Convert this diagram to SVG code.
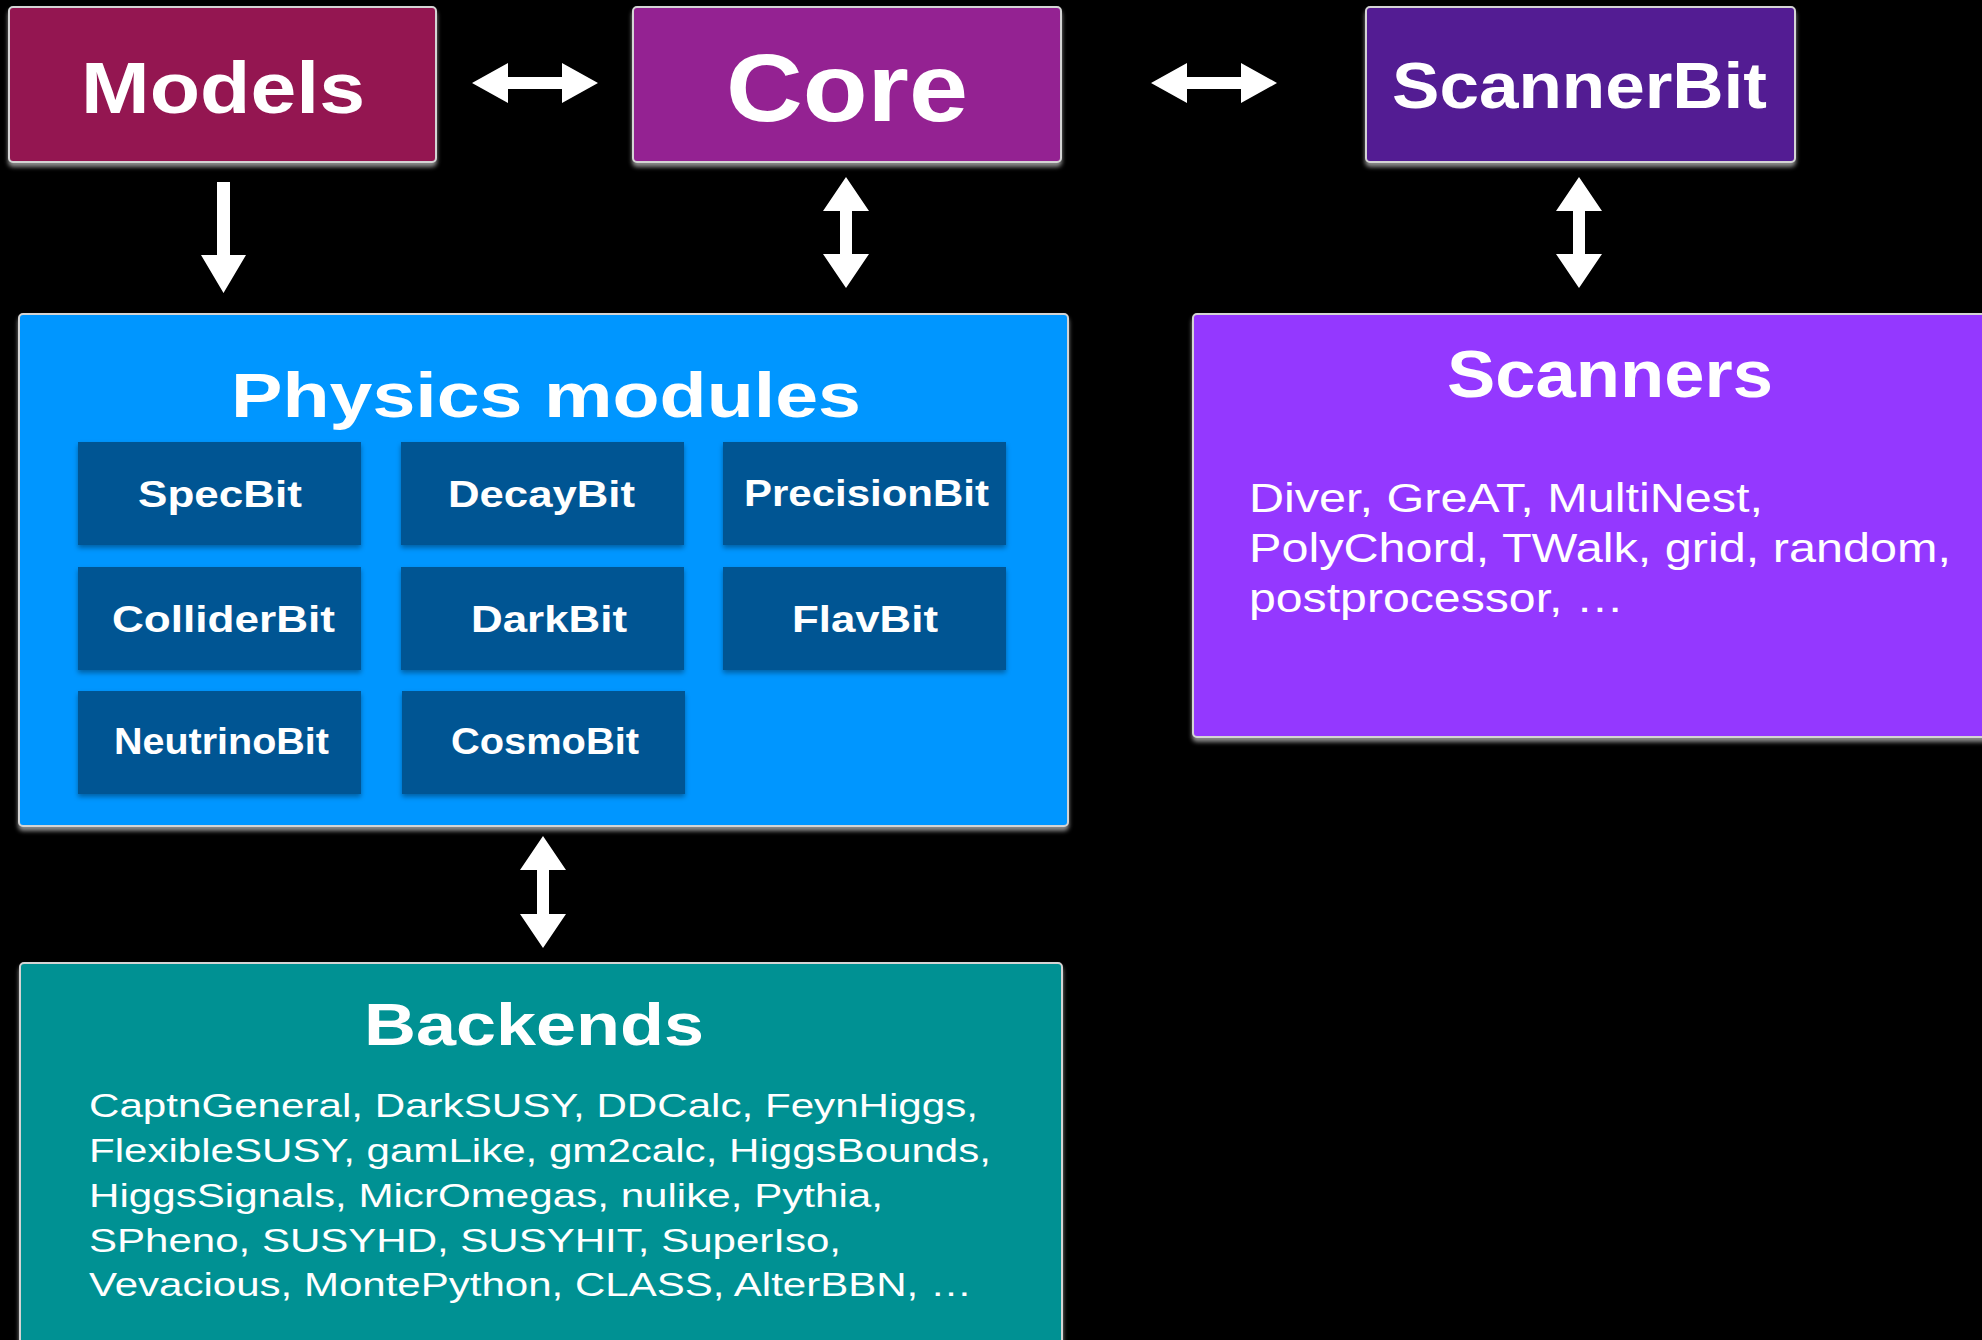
<svg xmlns="http://www.w3.org/2000/svg" width="1982" height="1340" viewBox="0 0 1982 1340">
<defs>
<filter id="sh" x="-5%" y="-5%" width="110%" height="115%">
<feDropShadow dx="0" dy="4" stdDeviation="2" flood-color="#9a9a9a" flood-opacity="0.9"/>
</filter>
<filter id="sh2" x="-5%" y="-5%" width="110%" height="120%">
<feDropShadow dx="0" dy="3" stdDeviation="2.5" flood-color="#000" flood-opacity="0.35"/>
</filter>
</defs>
<style>
.box{stroke:#d4d4d4;stroke-width:2;filter:url(#sh)}
.sub{fill:#005493;filter:url(#sh2)}
.t{font-family:"Liberation Sans",Arial,Helvetica,sans-serif;fill:#fff}
.b{font-weight:bold}
.arr{fill:#fff}
</style>
<rect width="1982" height="1340" fill="#000"/>

<g id="models">
<rect class="box" x="9" y="7" width="427" height="155" rx="4" fill="#941751"/>
<text class="t b" x="81" y="113" font-size="72" textLength="284" lengthAdjust="spacingAndGlyphs">Models</text>
</g>
<g id="core">
<rect class="box" x="633" y="7" width="428" height="155" rx="4" fill="#942192"/>
<text class="t b" x="726" y="121" font-size="97" textLength="242" lengthAdjust="spacingAndGlyphs">Core</text>
</g>
<g id="scannerbit">
<rect class="box" x="1366" y="7" width="429" height="155" rx="4" fill="#531B93"/>
<text class="t b" x="1392" y="108" font-size="64" textLength="375" lengthAdjust="spacingAndGlyphs">ScannerBit</text>
</g>

<g id="physics">
<rect class="box" x="19" y="314" width="1049" height="512" rx="4" fill="#0096FF"/>
<text class="t b" x="231" y="417" font-size="63" textLength="630" lengthAdjust="spacingAndGlyphs">Physics modules</text>
</g>
<g id="specbit">
<rect class="sub" x="78" y="442" width="283" height="103"/>
<text class="t b" x="138" y="507" font-size="37" textLength="164" lengthAdjust="spacingAndGlyphs">SpecBit</text>
</g>
<g id="decaybit">
<rect class="sub" x="401" y="442" width="283" height="103"/>
<text class="t b" x="448" y="507" font-size="37" textLength="187" lengthAdjust="spacingAndGlyphs">DecayBit</text>
</g>
<g id="precisionbit">
<rect class="sub" x="723" y="442" width="283" height="103"/>
<text class="t b" x="744" y="506" font-size="37" textLength="245" lengthAdjust="spacingAndGlyphs">PrecisionBit</text>
</g>
<g id="colliderbit">
<rect class="sub" x="78" y="567" width="283" height="103"/>
<text class="t b" x="112" y="632" font-size="37" textLength="223" lengthAdjust="spacingAndGlyphs">ColliderBit</text>
</g>
<g id="darkbit">
<rect class="sub" x="401" y="567" width="283" height="103"/>
<text class="t b" x="471" y="632" font-size="37" textLength="156" lengthAdjust="spacingAndGlyphs">DarkBit</text>
</g>
<g id="flavbit">
<rect class="sub" x="723" y="567" width="283" height="103"/>
<text class="t b" x="792" y="632" font-size="37" textLength="146" lengthAdjust="spacingAndGlyphs">FlavBit</text>
</g>
<g id="neutrinobit">
<rect class="sub" x="78" y="691" width="283" height="103"/>
<text class="t b" x="114" y="754" font-size="37" textLength="215" lengthAdjust="spacingAndGlyphs">NeutrinoBit</text>
</g>
<g id="cosmobit">
<rect class="sub" x="402" y="691" width="283" height="103"/>
<text class="t b" x="451" y="754" font-size="37" textLength="188" lengthAdjust="spacingAndGlyphs">CosmoBit</text>
</g>

<g id="scanners">
<rect class="box" x="1193" y="314" width="810" height="423" rx="4" fill="#9437FF"/>
<text class="t b" x="1447" y="397" font-size="66" textLength="326" lengthAdjust="spacingAndGlyphs">Scanners</text>
<text class="t" font-size="41">
<tspan x="1249" y="512" textLength="514" lengthAdjust="spacingAndGlyphs">Diver, GreAT, MultiNest,</tspan>
<tspan x="1249" y="562" textLength="702" lengthAdjust="spacingAndGlyphs">PolyChord, TWalk, grid, random,</tspan>
<tspan x="1249" y="612" textLength="375" lengthAdjust="spacingAndGlyphs">postprocessor, …</tspan>
</text>
</g>

<g id="backends">
<rect class="box" x="20" y="963" width="1042" height="390" rx="4" fill="#009193"/>
<text class="t b" x="364" y="1045" font-size="60" textLength="340" lengthAdjust="spacingAndGlyphs">Backends</text>
<text class="t" font-size="34">
<tspan x="89" y="1117" textLength="889" lengthAdjust="spacingAndGlyphs">CaptnGeneral, DarkSUSY, DDCalc, FeynHiggs,</tspan>
<tspan x="89" y="1162" textLength="902" lengthAdjust="spacingAndGlyphs">FlexibleSUSY, gamLike, gm2calc, HiggsBounds,</tspan>
<tspan x="89" y="1207" textLength="794" lengthAdjust="spacingAndGlyphs">HiggsSignals, MicrOmegas, nulike, Pythia,</tspan>
<tspan x="89" y="1252" textLength="752" lengthAdjust="spacingAndGlyphs">SPheno, SUSYHD, SUSYHIT, SuperIso,</tspan>
<tspan x="89" y="1296" textLength="883" lengthAdjust="spacingAndGlyphs">Vevacious, MontePython, CLASS, AlterBBN, …</tspan>
</text>
</g>

<g id="connectors">
<polygon class="arr" points="472,83 508,63 508,77 562,77 562,63 598,83 562,103 562,89 508,89 508,103"/>
<polygon class="arr" points="1151,83 1187,63 1187,77 1241,77 1241,63 1277,83 1241,103 1241,89 1187,89 1187,103"/>
<polygon class="arr" points="217,182 230,182 230,255 246,255 223.5,293 201,255 217,255"/>
<polygon class="arr" points="846,177 869,211 852,211 852,254 869,254 846,288 823,254 840,254 840,211 823,211"/>
<polygon class="arr" points="1579,177 1602,211 1585,211 1585,254 1602,254 1579,288 1556,254 1573,254 1573,211 1556,211"/>
<polygon class="arr" points="543,836 566,870 549,870 549,914 566,914 543,948 520,914 537,914 537,870 520,870"/>
</g>
</svg>
